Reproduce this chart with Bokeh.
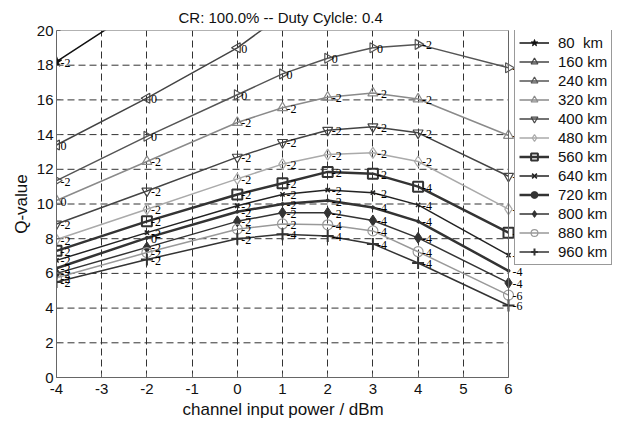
import math
from bokeh.plotting import figure
from bokeh.models import (ColumnDataSource, LabelSet, Legend, LegendItem,
                          FixedTicker, Range1d, Title)
from bokeh.embed import file_html
from bokeh.resources import INLINE

# ---------------- data ----------------
x_power = [-4, -2, 0, 1, 2, 3, 4, 6]
x_ticks = [-4, -3, -2, -1, 0, 1, 2, 3, 4, 5, 6]
x_tick_labels = ["-4", "-3", "-2", "-1", "0", "1", "2", "3", "4", "5", "6"]
y_ticks = [0, 2, 4, 6, 8, 10, 12, 14, 16, 18, 20]

series_names = ["80  km", "160 km", "240 km", "320 km", "400 km", "480 km",
                "560 km", "640 km", "720 km", "800 km", "880 km", "960 km"]

q_80 = [18.2, 21.6, 24.1, 25.0, 25.5, 25.6, 25.2, 23.4]
q_160 = [13.4, 16.1, 19.0, 20.9, 21.8, 22.0, 21.6, 20.6]
q_240 = [11.35, 13.9, 16.3, 17.5, 18.4, 19.0, 19.2, 17.85]
q_320 = [10.2, 12.45, 14.7, 15.55, 16.15, 16.4, 16.05, 13.95]
q_400 = [8.85, 10.75, 12.7, 13.55, 14.25, 14.45, 14.1, 11.6]
q_480 = [7.95, 9.7, 11.45, 12.3, 12.85, 12.95, 12.45, 9.7]
q_560 = [7.3, 9.0, 10.55, 11.2, 11.85, 11.75, 11.0, 8.35]
q_640 = [6.75, 8.35, 9.9, 10.55, 10.8, 10.65, 9.95, 7.05]
q_720 = [6.3, 8.05, 9.55, 10.0, 10.2, 9.8, 9.0, 6.15]
q_800 = [6.0, 7.5, 9.0, 9.5, 9.5, 9.05, 8.05, 5.45]
q_880 = [5.75, 7.2, 8.55, 8.85, 8.8, 8.45, 7.25, 4.75]
q_960 = [5.5, 6.8, 8.0, 8.25, 8.15, 7.7, 6.6, 4.15]

lab_80 = ["-2", "", "", "", "", "", "", ""]
lab_160 = ["0", "0", "0", "", "", "", "", ""]
lab_240 = ["-2", "0", "0", "0", "0", "0", "-2", "-2"]
lab_320 = ["0", "-2", "-2", "-2", "-2", "-2", "-2", "-2"]
lab_400 = ["-2", "-2", "-2", "-2", "-2", "-2", "-2", "-2"]
lab_480 = ["-2", "-2", "-2", "-2", "-2", "-2", "-2", "-2"]
lab_560 = ["-2", "-2", "-2", "-2", "-2", "-2", "-4", "-4"]
lab_640 = ["-2", "-2", "-2", "-2", "-2", "-2", "-4", "-4"]
lab_720 = ["-2", "0", "-2", "-2", "-2", "-4", "-4", "-4"]
lab_800 = ["-2", "-2", "-2", "-2", "-2", "-4", "-4", "-4"]
lab_880 = ["-2", "-2", "-2", "-2", "-4", "-4", "-4", "-6"]
lab_960 = ["-2", "-2", "-2", "-4", "-4", "-4", "-4", "-6"]

q_all = [q_80, q_160, q_240, q_320, q_400, q_480,
         q_560, q_640, q_720, q_800, q_880, q_960]
lab_all = [lab_80, lab_160, lab_240, lab_320, lab_400, lab_480,
           lab_560, lab_640, lab_720, lab_800, lab_880, lab_960]

# ---------------- styles ----------------
styles = [
    dict(color="#111111", marker="star", size=11, fill=True, lw=1.5, mlw=1, angle=0),
    dict(color="#444444", marker="triangle", size=10, fill=False, lw=1.5, mlw=1.2, angle=math.pi / 2),
    dict(color="#555555", marker="triangle", size=10, fill=False, lw=1.5, mlw=1.2, angle=-math.pi / 2),
    dict(color="#8a8a8a", marker="triangle", size=10, fill=False, lw=1.5, mlw=1.2, angle=0),
    dict(color="#444444", marker="inverted_triangle", size=10, fill=False, lw=1.5, mlw=1.2, angle=0),
    dict(color="#aaaaaa", marker="diamond", size=11, fill=False, lw=1.5, mlw=1.2, angle=0),
    dict(color="#333333", marker="square", size=10, fill=False, lw=2.5, mlw=2, angle=0),
    dict(color="#222222", marker="x", size=6, fill=False, lw=1.5, mlw=1.5, angle=0),
    dict(color="#333333", marker="circle", size=3, fill=True, lw=2.5, mlw=1, angle=0),
    dict(color="#333333", marker="diamond", size=11, fill=True, lw=1.5, mlw=1, angle=0),
    dict(color="#999999", marker="circle", size=10, fill=False, lw=1.5, mlw=1.2, angle=0),
    dict(color="#333333", marker="cross", size=12, fill=False, lw=1.5, mlw=2, angle=0),
]

FONT = "Liberation Sans"
X_MIN, X_MAX = x_ticks[0], x_ticks[-1]
Y_MIN, Y_MAX = y_ticks[0], y_ticks[-1]

# frame spans the whole width to the right so that the legend (outside the axes box) is visible
PX_PER_UNIT = (508 - 56) / (X_MAX - X_MIN)
x_view_max = X_MAX + (631 - 508) / PX_PER_UNIT

p = figure(width=631, height=426, output_backend="svg", toolbar_location=None,
           x_range=Range1d(X_MIN, x_view_max), y_range=Range1d(Y_MIN, Y_MAX),
           min_border_left=56, min_border_right=0,
           min_border_top=30, min_border_bottom=49,
           title="CR: 100.0% -- Duty Cylcle: 0.4")

p.title.align = "left"
p.title.offset = 122
p.title.vertical_align = "top"
p.title.text_font = FONT
p.title.text_font_size = "15px"
p.title.text_font_style = "normal"
p.title.text_color = "#111111"
p.title.standoff = 5

p.background_fill_color = "white"
p.border_fill_color = "white"
p.outline_line_color = None

for ax in (p.xaxis[0], p.yaxis[0]):
    ax.axis_line_color = "#666666"
    ax.major_tick_line_color = "#666666"
    ax.major_tick_in = 4
    ax.major_tick_out = 0
    ax.minor_tick_line_color = None
    ax.major_label_text_font = FONT
    ax.major_label_text_font_size = "15px"
    ax.major_label_text_color = "#111111"
    ax.axis_label_text_font = FONT
    ax.axis_label_text_font_size = "17px"
    ax.axis_label_text_font_style = "normal"
    ax.axis_label_text_color = "#111111"

p.xaxis.bounds = (X_MIN, X_MAX)
p.xaxis.ticker = FixedTicker(ticks=x_ticks)
p.yaxis.ticker = FixedTicker(ticks=y_ticks)
p.xaxis.major_label_overrides = {t: s for t, s in zip(x_ticks, x_tick_labels)}
p.yaxis.axis_label = "Q-value"
p.xaxis.major_label_standoff = 6
p.yaxis.major_label_standoff = 3
p.yaxis.axis_label_standoff = 3

# x-axis label, centred under the axes box (not under the wider frame)
xlabel = Title(text="channel input power / dBm", align="left", offset=126,
               text_font=FONT, text_font_size="17px", text_font_style="normal",
               text_color="#111111", standoff=2)
p.add_layout(xlabel, "below")

# vertical grid from bokeh; horizontal grid drawn within the axes box only
p.xgrid.grid_line_color = "#333333"
p.xgrid.grid_line_dash = "7 4"
p.xgrid.grid_line_width = 1
p.ygrid.grid_line_color = None

inner_y = y_ticks[1:-1]
p.segment(x0=[X_MIN] * len(inner_y), x1=[X_MAX] * len(inner_y), y0=inner_y, y1=inner_y,
          line_color="#333333", line_dash="7 4", line_width=1)

items = []
lx, ly, lt = [], [], []
for name, q, labs, st in zip(series_names, q_all, lab_all, styles):
    src = ColumnDataSource(dict(x=x_power, y=q))
    lr = p.line("x", "y", source=src, line_color=st["color"], line_width=st["lw"])
    sr = p.scatter("x", "y", source=src, marker=st["marker"], size=st["size"],
                   angle=st["angle"], line_color=st["color"], line_width=st["mlw"],
                   fill_color=st["color"] if st["fill"] else None)
    items.append(LegendItem(label=name, renderers=[lr, sr]))
    for xv, yv, t in zip(x_power, q, labs):
        if t:
            lx.append(xv)
            ly.append(yv)
            lt.append(t)

# axes box: top and right edges
p.segment(x0=[X_MIN, X_MAX], x1=[X_MAX, X_MAX], y0=[Y_MAX, Y_MIN], y1=[Y_MAX, Y_MAX],
          line_color="#666666", line_width=1)

lab_src = ColumnDataSource(dict(x=lx, y=ly, t=lt))
p.add_layout(LabelSet(x="x", y="y", text="t", source=lab_src, x_offset=4, y_offset=-1,
                      text_baseline="middle", text_font=FONT, text_font_size="12px",
                      text_color="#000000"))

legend = Legend(items=items, location=(458, 112))
legend.label_text_font = FONT
legend.label_text_font_size = "15px"
legend.label_text_color = "#111111"
legend.glyph_width = 30
legend.glyph_height = 17
legend.label_height = 17
legend.spacing = 2
legend.padding = 4
legend.margin = 0
legend.label_standoff = 9
legend.border_line_color = "#333333"
legend.border_line_width = 1
legend.background_fill_color = "white"
legend.background_fill_alpha = 1.0
p.add_layout(legend, "center")

open("out.html", "w").write(file_html(p, INLINE))
